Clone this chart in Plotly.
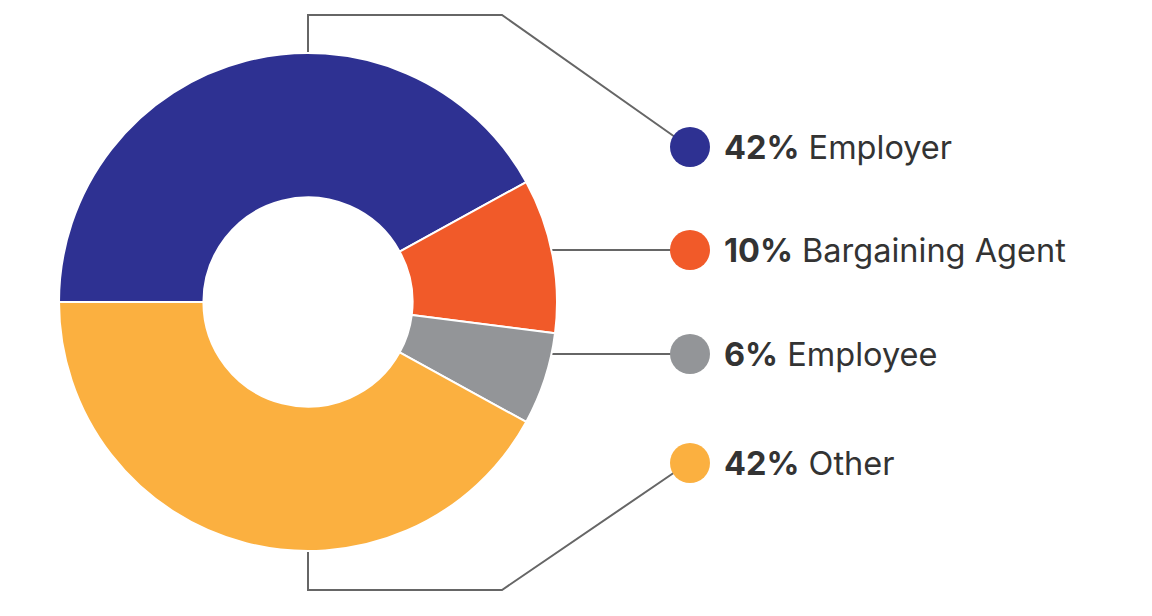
import plotly.graph_objects as go

categories = ["Employer", "Bargaining Agent", "Employee", "Other"]
values = [42, 10, 6, 42]
colors = ["#2E3192", "#F15A29", "#939598", "#FBB040"]

W, H = 1152, 616

def px(x):
    return x / W

def py(y):
    return 1 - y / H

fig = go.Figure()
fig.add_trace(go.Pie(
    labels=categories,
    values=values,
    marker=dict(colors=colors, line=dict(color="white", width=2)),
    hole=0.42,
    sort=False,
    direction="clockwise",
    rotation=270,
    textinfo="none",
    domain=dict(x=[px(59), px(557)], y=[py(551), py(53)]),
    showlegend=False,
))

line_style = dict(color="#666666", width=2)
shapes = []
# Employer connector
shapes.append(dict(type="path", xref="paper", yref="paper",
                   path=f"M {px(308)},{py(53)} L {px(308)},{py(15)} L {px(502)},{py(15)} L {px(675)},{py(137)}",
                   line=line_style, layer="below"))
# Bargaining connector
shapes.append(dict(type="line", xref="paper", yref="paper",
                   x0=px(540), y0=py(250), x1=px(672), y1=py(250), line=line_style, layer="below"))
# Employee connector
shapes.append(dict(type="line", xref="paper", yref="paper",
                   x0=px(540), y0=py(354), x1=px(672), y1=py(354), line=line_style, layer="below"))
# Other connector
shapes.append(dict(type="path", xref="paper", yref="paper",
                   path=f"M {px(308)},{py(551)} L {px(308)},{py(590)} L {px(502)},{py(590)} L {px(675)},{py(472)}",
                   line=line_style, layer="below"))

row_y = [147, 250, 354, 463]
r = 20
cx = 690
annotations = []
for cat, val, col, yy in zip(categories, values, colors, row_y):
    shapes.append(dict(type="circle", xref="paper", yref="paper",
                       x0=px(cx - r), x1=px(cx + r), y0=py(yy + r), y1=py(yy - r),
                       fillcolor=col, line=dict(width=0)))
    annotations.append(dict(xref="paper", yref="paper", x=px(722), y=py(yy),
                            xanchor="left", yanchor="middle", showarrow=False,
                            text=f"<b>{val}%</b> {cat}",
                            font=dict(family="Inter", size=32.5, color="#333333")))

fig.update_layout(
    width=W, height=H,
    margin=dict(l=0, r=0, t=0, b=0),
    paper_bgcolor="white", plot_bgcolor="white",
    shapes=shapes, annotations=annotations,
)

fig.write_html("out.html")
